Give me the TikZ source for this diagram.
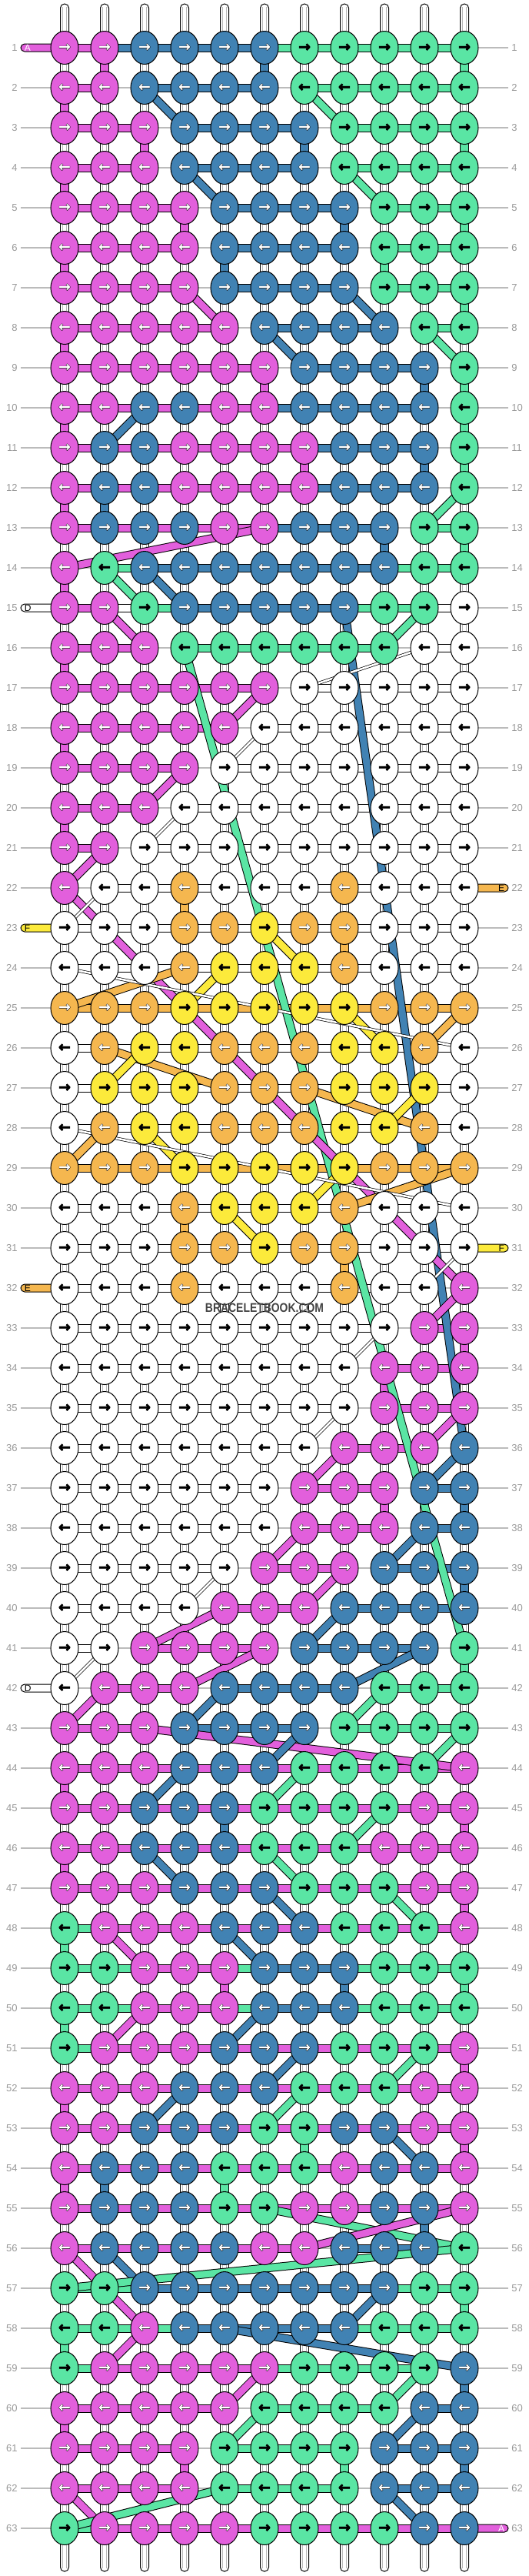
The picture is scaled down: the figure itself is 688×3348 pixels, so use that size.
\documentclass[tikz,border=0pt]{standalone}
\usepackage{fontspec}
\setmainfont{Liberation Sans}
\newfontfamily\arrowfont{DejaVu Sans Bold}
\newfontfamily\arrowout{DejaVu Sans Bold}[FakeBold=3]
\usepackage{graphicx}
\usetikzlibrary{shapes.geometric}
\definecolor{kP}{HTML}{E25FDC}
\definecolor{kB}{HTML}{4182B3}
\definecolor{kG}{HTML}{5AE5A4}
\definecolor{kO}{HTML}{F5B74F}
\definecolor{kY}{HTML}{FCEA3B}
\definecolor{kW}{HTML}{FFFFFF}
\colorlet{aP}{white}\colorlet{aB}{white}\colorlet{aO}{white}
\colorlet{aG}{black}\colorlet{aW}{black}\colorlet{aY}{black}
\definecolor{rowgray}{HTML}{BBBBBB}
\definecolor{labgray}{HTML}{9A9A9A}
\definecolor{wmgray}{HTML}{444444}
\newcommand\knotarrow[2]{\makebox[0pt]{\arrowout\color{black}#2}\makebox[0pt]{\arrowfont\color{a#1}#2}}
\begin{document}
\begin{tikzpicture}[x=0.5pt,y=-0.5pt,
  knot/.style={ellipse, draw=black, line width=0.5pt, minimum width=18pt, minimum height=21.5pt, inner sep=0pt, font=\fontsize{9.5}{10}\selectfont},
  barbox/.style={draw=black, line width=0.5pt},
  stubbox/.style={draw=black, line width=0.5pt, fill=white},
  innerline/.style={draw=black!28, line width=0.35pt},
  thickdiag/.style={draw=black, line width=0.5pt, double distance=4.5pt},
  thindiag/.style={draw=black, line width=0.35pt, double=white, double distance=1.3pt},
  rowline/.style={draw=rowgray, line width=0.6pt},
  rowlabel/.style={text=labgray, font=\fontsize{6.5}{7}\selectfont, inner sep=0pt},
  endlabel/.style={font=\fontsize{6}{7}\selectfont, inner sep=0pt},
]
\useasboundingbox (0,0) rectangle (688,3348);
\fill[white] (0,0) rectangle (688,3348);
% coordinates
\foreach \ri in {1,...,63}{
  \foreach \ci in {1,...,11}{
    \coordinate (p\ri-\ci) at ({84+52*(\ci-1)},{62+52*(\ri-1)});
  }
  \coordinate (lft\ri) at (27,{62+52*(\ri-1)});
  \coordinate (rgt\ri) at (661,{62+52*(\ri-1)});
  \coordinate (labl\ri) at (23,{62+52*(\ri-1)});
  \coordinate (labr\ri) at (665,{62+52*(\ri-1)});
}
\foreach \ci in {1,...,11}{
  \coordinate (top\ci) at ({84+52*(\ci-1)},5);
  \coordinate (bot\ci) at ({84+52*(\ci-1)},3342);
}
% row lines and labels
\foreach \ri in {1,...,63}{
  \draw[rowline] (lft\ri) -- (rgt\ri);
  \node[rowlabel, anchor=east] (ll\ri) at (labl\ri) {\ri};
  \node[rowlabel, anchor=west] (lr\ri) at (labr\ri) {\ri};
}
% top and bottom strings
\foreach \ci in {1,...,11}{
  \filldraw[stubbox, rounded corners=2.7pt] ([xshift=-2.75pt]p1-\ci) -- ([xshift=-2.75pt]top\ci) -- ([xshift=2.75pt]top\ci) -- ([xshift=2.75pt]p1-\ci);
  \draw[innerline] ([xshift=-1.2pt,yshift=-2pt]top\ci) -- ([xshift=-1.2pt]p1-\ci) ([xshift=1.2pt,yshift=-2pt]top\ci) -- ([xshift=1.2pt]p1-\ci);
  \filldraw[stubbox, rounded corners=2.7pt] ([xshift=-2.75pt]p63-\ci) -- ([xshift=-2.75pt]bot\ci) -- ([xshift=2.75pt]bot\ci) -- ([xshift=2.75pt]p63-\ci);
  \draw[innerline] ([xshift=-1.2pt,yshift=2pt]bot\ci) -- ([xshift=-1.2pt]p63-\ci) ([xshift=1.2pt,yshift=2pt]bot\ci) -- ([xshift=1.2pt]p63-\ci);
}
% white vertical stubs
\foreach \ri in {1,...,62}{
  \pgfmathtruncatemacro\rn{\ri+1}
  \foreach \ci in {1,...,11}{
    \filldraw[stubbox] ([xshift=-2.75pt]p\ri-\ci) rectangle ([xshift=2.75pt]p\rn-\ci);
    \draw[innerline] ([xshift=-1.2pt]p\ri-\ci) -- ([xshift=-1.2pt]p\rn-\ci) ([xshift=1.2pt]p\ri-\ci) -- ([xshift=1.2pt]p\rn-\ci);
  }
}
% coloured vertical stubs
\foreach \ri/\ci/\cl in {1/2/P,1/6/B,1/11/G,2/1/P,3/3/P,3/7/B,3/11/G,4/1/P,5/4/P,5/8/B,5/11/G,6/1/P,6/5/B,6/9/G,7/11/G,8/1/P,9/6/P,9/10/B,9/11/G,10/1/P,10/11/G,11/7/P,11/10/B,11/11/G,12/1/P,12/2/B,13/9/B,13/11/G,14/1/P,16/1/P,18/1/P,20/1/P,22/4/O,23/8/O,30/4/O,31/8/O,33/11/P,34/9/P,37/9/P,37/11/B,39/11/B,41/11/G,44/1/P,45/5/B,45/11/P,46/1/P,47/11/P,48/1/G,49/5/P,49/8/B,49/11/G,50/1/G,51/11/P,52/1/P,53/7/G,53/11/P,54/1/P,54/2/B,54/5/G,55/10/B,57/11/G,58/1/G,59/11/B,60/1/P,61/4/P,61/8/G,61/11/B}{
  \pgfmathtruncatemacro\rn{\ri+1}
  \filldraw[barbox, fill=k\cl] ([xshift=-2.75pt]p\ri-\ci) rectangle ([xshift=2.75pt]p\rn-\ci);
}
% horizontal bars
\foreach \lst [count=\ri] in {
{P,B,B,B,B,G,G,G,G,G},
{P,N,B,B,B,N,G,G,G,G},
{P,P,N,B,B,B,N,G,G,G},
{P,P,N,B,B,B,N,G,G,G},
{P,P,P,N,B,B,B,N,G,G},
{P,P,P,N,B,B,B,N,G,G},
{P,P,P,N,B,B,B,N,G,G},
{P,P,P,P,N,B,B,B,N,G},
{P,P,P,P,P,N,B,B,B,N},
{P,P,P,P,P,B,B,B,B,N},
{P,P,P,P,P,P,B,B,B,N},
{P,P,P,P,P,P,B,B,B,N},
{P,P,P,P,P,B,B,B,N,G},
{N,G,B,B,B,B,B,B,G,G},
{P,W,G,B,B,B,B,G,G,W},
{P,P,N,G,G,G,G,G,N,W},
{P,P,P,P,P,N,W,W,W,W},
{P,P,P,P,N,W,W,W,W,W},
{P,P,P,N,W,W,W,W,W,W},
{P,P,N,W,W,W,W,W,W,W},
{P,N,W,W,W,W,W,W,W,W},
{N,W,W,W,W,W,W,W,W,W},
{W,W,W,W,W,W,W,W,W,W},
{W,W,W,W,W,W,W,W,W,W},
{O,O,O,O,O,O,O,O,O,O},
{W,W,W,W,W,W,W,W,W,W},
{W,W,W,W,W,W,W,W,W,W},
{W,W,W,W,W,W,W,W,W,W},
{O,O,O,O,O,O,O,O,O,O},
{W,W,W,W,W,W,W,W,W,W},
{W,W,W,W,W,W,W,W,W,W},
{W,W,W,W,W,W,W,W,W,N},
{W,W,W,W,W,W,W,W,N,P},
{W,W,W,W,W,W,W,N,P,P},
{W,W,W,W,W,W,W,N,P,P},
{W,W,W,W,W,W,N,P,P,N},
{W,W,W,W,W,N,P,P,N,B},
{W,W,W,W,W,N,P,P,N,B},
{W,W,W,W,N,P,P,N,B,B},
{W,W,W,N,P,P,N,B,B,B},
{W,N,P,P,P,N,B,B,B,N},
{N,P,P,N,B,B,B,N,G,G},
{P,P,N,B,B,B,N,G,G,G},
{P,P,P,P,P,P,P,P,P,P},
{P,P,P,P,P,P,P,P,P,P},
{P,P,P,P,P,P,P,P,P,P},
{P,P,P,P,P,P,P,P,P,P},
{G,P,P,P,P,P,P,P,P,P},
{G,G,P,P,G,B,B,G,G,G},
{G,G,P,P,G,B,B,G,G,G},
{G,P,P,P,P,P,P,P,P,P},
{P,P,P,P,P,P,P,P,P,P},
{P,P,P,P,P,P,P,P,P,P},
{P,P,P,P,P,P,P,P,P,P},
{P,P,P,P,P,P,P,P,P,P},
{P,P,P,P,P,P,N,B,B,N},
{G,G,B,B,B,B,B,B,G,G},
{G,G,G,B,B,B,B,G,G,G},
{G,P,P,P,P,G,G,G,G,N},
{P,P,P,P,N,G,G,G,N,B},
{P,P,P,N,G,G,G,N,B,B},
{P,P,P,N,G,G,G,N,B,B},
{G,P,P,P,P,P,P,P,P,P}}{
  \foreach \bc [count=\ci] in \lst {
    \pgfmathtruncatemacro\cn{\ci+1}
    \ifnum\strcmp{\bc}{N}=0\relax\else
      \filldraw[barbox, fill=k\bc] ([yshift=2.5pt]p\ri-\ci) rectangle ([yshift=-2.5pt]p\ri-\cn);
    \fi
  }
}
% thick diagonal strings
\foreach \pa/\pb/\cl in {2-3/3-4/B, 2-7/3-8/G, 4-4/5-5/B, 4-8/5-9/G, 7-4/8-5/P, 7-8/8-9/B, 8-6/9-7/B, 8-10/9-11/G, 10-3/11-2/B, 12-11/13-10/G, 13-6/14-1/P, 14-2/15-3/G, 14-3/15-4/B, 15-2/16-3/P, 15-10/16-9/G, 15-8/36-11/B, 16-4/41-11/G, 17-6/18-5/P, 19-4/20-3/P, 21-2/22-1/P, 22-1/32-11/P, 23-6/24-7/Y, 24-4/25-1/O, 24-5/25-4/Y, 25-8/26-9/Y, 25-11/26-10/O, 26-2/27-5/O, 26-3/27-2/Y, 27-7/28-10/O, 27-10/28-9/Y, 28-2/29-1/O, 28-3/29-4/Y, 29-8/30-7/Y, 29-11/30-8/O, 30-5/31-6/Y, 32-11/33-10/P, 35-11/36-10/P, 36-8/37-7/P, 36-11/37-10/B, 38-7/39-6/P, 38-10/39-9/B, 39-8/40-7/P, 40-5/41-3/P, 40-8/41-7/B, 41-6/42-4/P, 41-10/42-8/B, 42-2/43-1/P, 42-5/43-4/B, 42-9/43-8/G, 43-3/44-11/P, 43-7/44-6/B, 43-11/44-10/G, 44-4/45-3/B, 44-7/45-6/G, 45-9/46-8/G, 46-3/47-4/B, 46-6/47-7/G, 47-6/48-7/B, 47-9/48-10/G, 48-2/49-3/P, 48-5/49-6/B, 50-3/51-2/P, 50-6/51-5/B, 51-7/52-6/B, 51-10/52-9/G, 52-4/53-3/B, 52-7/53-6/G, 53-9/54-10/B, 55-6/56-11/G, 55-11/56-7/P, 56-1/57-2/P, 56-2/57-3/B, 56-11/57-1/G, 57-2/58-3/P, 57-9/58-8/B, 58-3/59-2/P, 58-5/59-11/B, 59-6/60-5/P, 59-10/60-9/G, 60-6/61-5/G, 60-10/61-9/B, 62-1/63-2/P, 62-5/63-1/G, 62-9/63-10/B}{
  \draw[thickdiag, double=k\cl] (p\pa) -- (p\pb);
}
% thin white strings
\foreach \pa/\pb in {16-10/17-7, 18-6/19-5, 20-4/21-3, 22-2/23-1, 24-1/26-11, 28-1/30-11, 31-11/32-10, 33-9/34-8, 35-8/36-7, 39-5/40-4, 41-2/42-1}{
  \draw[thindiag] (p\pa) -- (p\pb);
}
% loose ends with letters
\foreach \ri/\cl/\lt/\tc in {1/P/A/white, 15/W/D/black, 23/Y/F/black, 32/O/E/black, 42/W/D/black}{
  \filldraw[barbox, fill=k\cl, rounded corners=2.5pt] ([yshift=2.5pt]p\ri-1) -- ([yshift=2.5pt]lft\ri) -- ([yshift=-2.5pt]lft\ri) -- ([yshift=-2.5pt]p\ri-1);
  \node[endlabel, text=\tc, anchor=west] (el\ri) at ([xshift=2.3pt]lft\ri) {\lt};
}
\foreach \ri/\cl/\lt/\tc in {22/O/E/black, 31/Y/F/black, 63/P/A/white}{
  \filldraw[barbox, fill=k\cl, rounded corners=2.5pt] ([yshift=2.5pt]p\ri-11) -- ([yshift=2.5pt]rgt\ri) -- ([yshift=-2.5pt]rgt\ri) -- ([yshift=-2.5pt]p\ri-11);
  \node[endlabel, text=\tc, anchor=east] (er\ri) at ([xshift=-2.3pt]rgt\ri) {\lt};
}
% knots
\foreach \lst [count=\ri] in {
{P,P,B,B,B,B,G,G,G,G,G},
{P,P,B,B,B,B,G,G,G,G,G},
{P,P,P,B,B,B,B,G,G,G,G},
{P,P,P,B,B,B,B,G,G,G,G},
{P,P,P,P,B,B,B,B,G,G,G},
{P,P,P,P,B,B,B,B,G,G,G},
{P,P,P,P,B,B,B,B,G,G,G},
{P,P,P,P,P,B,B,B,B,G,G},
{P,P,P,P,P,P,B,B,B,B,G},
{P,P,B,B,P,P,B,B,B,B,G},
{P,B,B,P,P,P,P,B,B,B,G},
{P,B,B,P,P,P,P,B,B,B,G},
{P,B,B,B,P,P,B,B,B,G,G},
{P,G,B,B,B,B,B,B,B,G,G},
{P,P,G,B,B,B,B,B,G,G,W},
{P,P,P,G,G,G,G,G,G,W,W},
{P,P,P,P,P,P,W,W,W,W,W},
{P,P,P,P,P,W,W,W,W,W,W},
{P,P,P,P,W,W,W,W,W,W,W},
{P,P,P,W,W,W,W,W,W,W,W},
{P,P,W,W,W,W,W,W,W,W,W},
{P,W,W,O,W,W,W,O,W,W,W},
{W,W,W,O,O,Y,O,O,W,W,W},
{W,W,W,O,Y,Y,Y,O,W,W,W},
{O,O,O,Y,Y,Y,Y,Y,O,O,O},
{W,O,Y,Y,O,O,O,Y,Y,O,W},
{W,Y,Y,Y,O,O,O,Y,Y,Y,W},
{W,O,Y,Y,O,O,O,Y,Y,O,W},
{O,O,O,Y,Y,Y,Y,Y,O,O,O},
{W,W,W,O,Y,Y,Y,O,W,W,W},
{W,W,W,O,O,Y,O,O,W,W,W},
{W,W,W,O,W,W,W,O,W,W,P},
{W,W,W,W,W,W,W,W,W,P,P},
{W,W,W,W,W,W,W,W,P,P,P},
{W,W,W,W,W,W,W,W,P,P,P},
{W,W,W,W,W,W,W,P,P,P,B},
{W,W,W,W,W,W,P,P,P,B,B},
{W,W,W,W,W,W,P,P,P,B,B},
{W,W,W,W,W,P,P,P,B,B,B},
{W,W,W,W,P,P,P,B,B,B,B},
{W,W,P,P,P,P,B,B,B,B,G},
{W,P,P,P,B,B,B,B,G,G,G},
{P,P,P,B,B,B,B,G,G,G,G},
{P,P,P,B,B,B,G,G,G,G,P},
{P,P,B,B,B,G,G,G,G,P,P},
{P,P,B,B,B,G,G,G,P,P,P},
{P,P,P,B,B,B,G,G,G,P,P},
{G,P,P,P,B,B,B,G,G,G,P},
{G,G,P,P,P,B,B,B,G,G,G},
{G,G,P,P,P,B,B,B,G,G,G},
{G,P,P,P,B,B,B,G,G,G,P},
{P,P,P,B,B,B,G,G,G,P,P},
{P,P,B,B,B,G,G,B,B,P,P},
{P,B,B,B,G,G,G,P,B,B,P},
{P,B,B,B,G,G,P,P,B,B,P},
{P,B,B,B,B,P,P,B,B,B,G},
{G,G,B,B,B,B,B,B,B,G,G},
{G,G,P,B,B,B,B,B,G,G,G},
{G,P,P,P,P,P,G,G,G,G,B},
{P,P,P,P,P,G,G,G,G,B,B},
{P,P,P,P,G,G,G,G,B,B,B},
{P,P,P,P,G,G,G,G,B,B,B},
{G,P,P,P,P,G,G,G,G,B,B}}{
  \foreach \kc [count=\ci] in \lst {
    \ifodd\ri\relax \def\arrsym{→}\else \def\arrsym{←}\fi
    \node[knot, fill=k\kc] (k\ri-\ci) at (p\ri-\ci) {\knotarrow{\kc}{\arrsym}};
  }
}
% watermark
\node[font=\bfseries\fontsize{8.2}{9}\selectfont, text=wmgray, inner sep=0pt] (wm) at (344,1700) {\scalebox{0.85}[1]{BRACELETBOOK.COM}};
\end{tikzpicture}
\end{document}
